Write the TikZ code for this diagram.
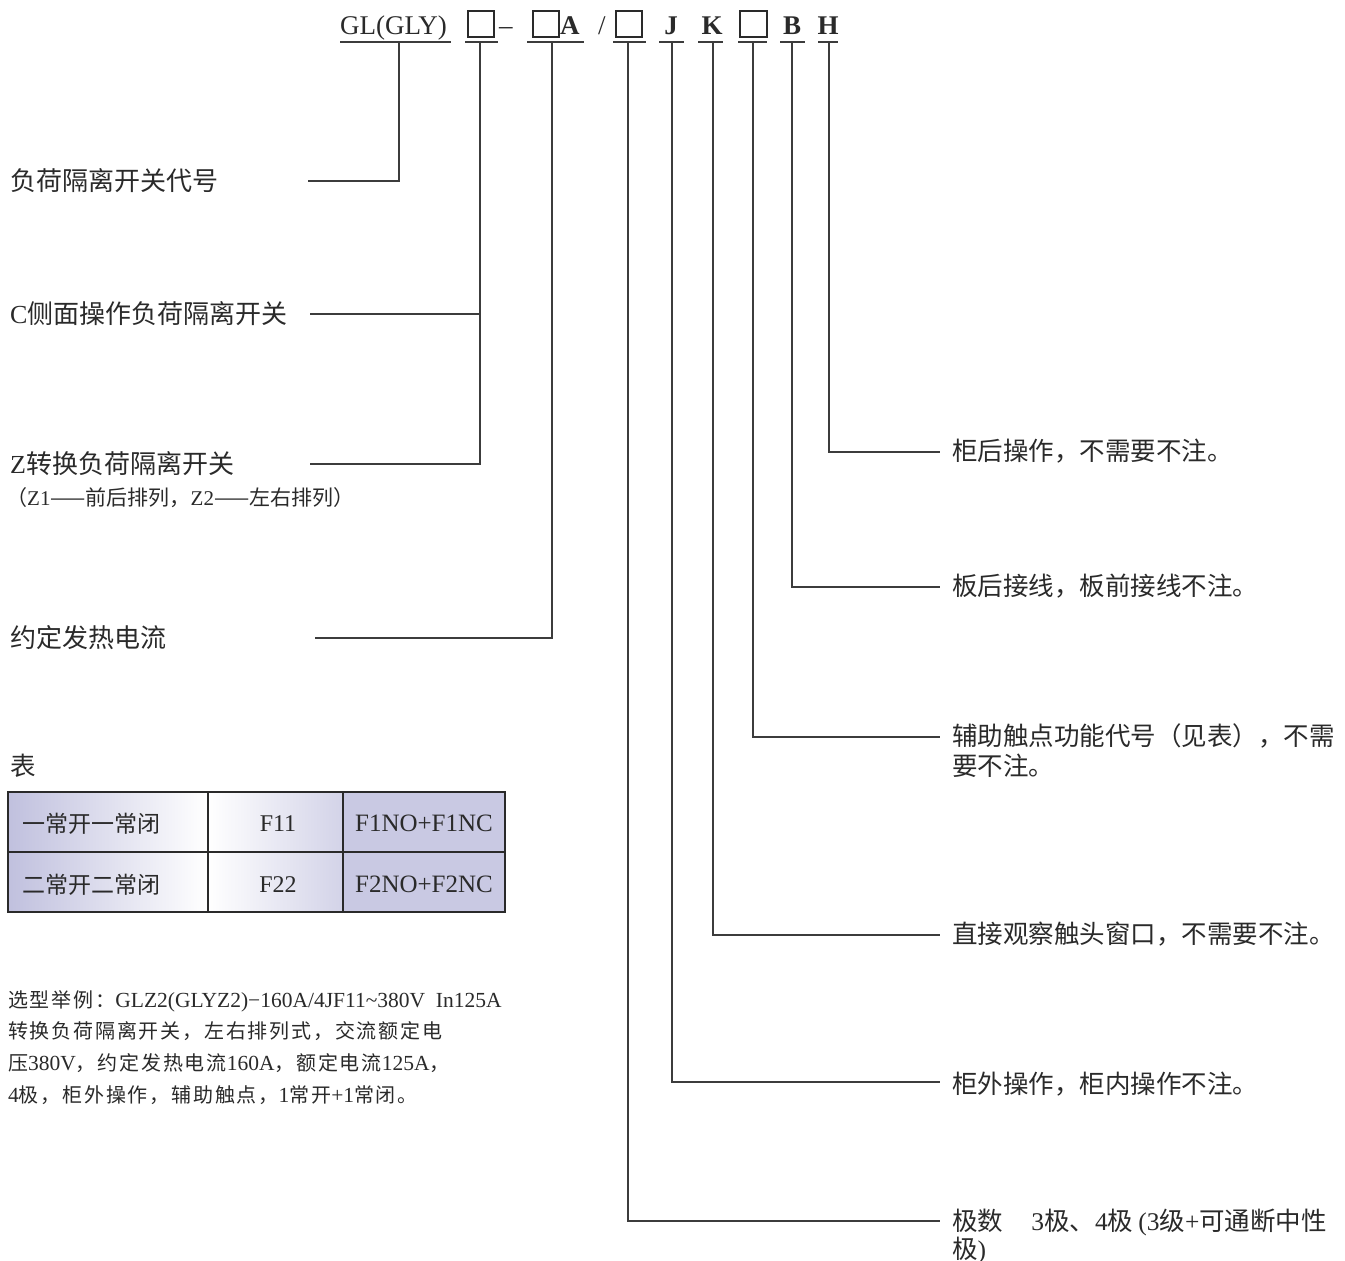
\documentclass[tikz,border=0pt]{standalone}
\usepackage{fontspec}
\setmainfont{Liberation Serif}
\newfontfamily\cjk{Noto Sans CJK SC}
\newfontfamily\cjkx[LetterSpace=9]{Noto Sans CJK SC}
\newcommand\lt[1]{{\rmfamily #1}}
\newcommand\fs[1]{\fontsize{#1pt}{#1pt}\selectfont}
\definecolor{ink}{HTML}{2A2A2A}
\definecolor{wire}{HTML}{3C3C3C}
\definecolor{lav}{RGB}{192,192,222}
\tikzset{
  wire/.style={draw=wire, line width=1.5pt},
  hdr/.style={anchor=base, inner sep=0pt, text=ink, font=\rmfamily\fs{27}},
  lbl/.style={anchor=base west, inner sep=0pt, text=ink, font=\cjk\fs{26}},
  rlbl/.style={anchor=base west, inner sep=0pt, text=ink, font=\cjk\fs{25.5}},
  small/.style={anchor=base west, inner sep=0pt, text=ink, font=\cjk\fs{21}},
  ex/.style={anchor=base west, inner sep=0pt, text=ink, font=\cjkx\fs{20}},
  cell/.style={anchor=base, inner sep=0pt, text=ink, font=\cjk\fs{23}},
  sqbox/.style={draw=ink, line width=1.1pt},
}
\begin{document}
\begin{tikzpicture}[x=1pt,y=-1pt]
\fill[white] (0,0) rectangle (1345,1261);
\useasboundingbox (0,0) rectangle (1345,1261);

% ---------- header ----------
\node[hdr, anchor=base west] (hGL) at (340,34) {GL(GLY)};
\draw[sqbox] (468,11) rectangle (494,37);
\node[hdr, anchor=base west] (hdash) at (499,34) {–};
\draw[sqbox] (533,11) rectangle (559,37);
\node[hdr, anchor=base west] (hA) at (560,34) {\bfseries A};
\node[hdr, anchor=base west] (hsl) at (598,34) {/};
\draw[sqbox] (616,11) rectangle (642,37);
\node[hdr] (hJ) at (671,34) {\bfseries J};
\node[hdr] (hK) at (712,34) {\bfseries K};
\draw[sqbox] (740,11) rectangle (767,37);
\node[hdr] (hB) at (792,34) {\bfseries B};
\node[hdr] (hH) at (828,34) {\bfseries H};

% underlines
\foreach \a/\b in {340/451,465/498,527/584,613/646,659/684,698/723,738/767,780/805,818/838}
  \draw[wire] (\a,42) -- (\b,42);

% tick coordinates
\coordinate (u1) at (399,42);
\coordinate (u2) at (480,42);
\coordinate (u3) at (552,42);
\coordinate (u4) at (628,42);
\coordinate (u5) at (672,42);
\coordinate (u6) at (713,42);
\coordinate (u7) at (753,42);
\coordinate (u8) at (792,42);
\coordinate (u9) at (829,42);

% ---------- left labels ----------
\node[lbl] (L1) at (10,190) {负荷隔离开关代号};
\node[lbl] (L2) at (10,323) {\lt{C}侧面操作负荷隔离开关};
\node[lbl] (L3) at (10,473) {\lt{Z}转换负荷隔离开关};
\node[small] (L3b) at (6,505) {（\lt{Z1}——前后排列，\lt{Z2}——左右排列）};
\node[lbl] (L4) at (10,647) {约定发热电流};

\coordinate (e1) at (308,181);
\coordinate (j2) at (480,314);
\coordinate (e2) at (310,314);
\coordinate (e3) at (310,464);
\coordinate (e4) at (315,638);
\draw[wire] (u1) |- (e1);
\draw[wire] (u2) |- (e3);
\draw[wire] (j2) -- (e2);
\draw[wire] (u3) |- (e4);

% ---------- right labels ----------
\node[rlbl] (R9) at (952,460) {柜后操作，不需要不注。};
\node[rlbl] (R8) at (952,595) {板后接线，板前接线不注。};
\node[rlbl] (R7) at (952,745) {辅助触点功能代号（见表），不需};
\node[rlbl] (R7b) at (952,775) {要不注。};
\node[rlbl] (R6) at (952,943) {直接观察触头窗口，不需要不注。};
\node[rlbl] (R5) at (952,1093) {柜外操作，柜内操作不注。};
\node[rlbl] (R4) at (952,1230) {极数\hspace{1.1em}\lt{3}极、\lt{4}极\hspace{0.2em}\lt{(3}级\lt{+}可通断中性};
\node[rlbl] (R4b) at (952,1258) {极\lt{)}};

\coordinate (e9) at (940,452);
\coordinate (e8) at (940,587);
\coordinate (e7) at (940,737);
\coordinate (e6) at (940,935);
\coordinate (e5) at (940,1082);
\coordinate (e4r) at (940,1221);
\draw[wire] (u9) |- (e9);
\draw[wire] (u8) |- (e8);
\draw[wire] (u7) |- (e7);
\draw[wire] (u6) |- (e6);
\draw[wire] (u5) |- (e5);
\draw[wire] (u4) |- (e4r);

% ---------- table ----------
\node[rlbl] (T) at (10,775) {表};
\shade[left color=lav, right color=white] (8,792) rectangle (208,912);
\shade[left color=white, right color=lav!70] (208,792) rectangle (343,912);
\shade[left color=lav!85, middle color=white, right color=lav!85] (343,792) rectangle (505,912);
\draw[draw=ink, line width=1.5pt] (8,792) rectangle (505,912);
\draw[draw=ink, line width=1.2pt] (8,852) -- (505,852);
\draw[draw=ink, line width=1.2pt] (208,792) -- (208,912);
\draw[draw=ink, line width=1.2pt] (343,792) -- (343,912);
\node[cell, anchor=base west] (c11) at (22,832) {一常开一常闭};
\node[cell, font=\rmfamily\fs{24}] (c12) at (278,831) {F11};
\node[cell, font=\rmfamily\fs{25}] (c13) at (424,831) {F1NO+F1NC};
\node[cell, anchor=base west] (c21) at (22,893) {二常开二常闭};
\node[cell, font=\rmfamily\fs{24}] (c22) at (278,892) {F22};
\node[cell, font=\rmfamily\fs{25}] (c23) at (424,892) {F2NO+F2NC};

% ---------- example ----------
\node[ex] (x1) at (8,1007) {选型举例：\lt{\fs{21.5}GLZ2(GLYZ2)−160A/4JF11\char`\~380V\ \ In125A}};
\node[ex] (x2) at (8,1038) {转换负荷隔离开关，左右排列式，交流额定电};
\node[ex] (x3) at (8,1070) {压\lt{\fs{21.5}380V}，约定发热电流\lt{\fs{21.5}160A}，额定电流\lt{\fs{21.5}125A}，};
\node[ex] (x4) at (8,1102) {\lt{\fs{21.5}4}极，柜外操作，辅助触点，\lt{\fs{21.5}1}常开\lt{\fs{21.5}+1}常闭。};
\end{tikzpicture}
\end{document}
